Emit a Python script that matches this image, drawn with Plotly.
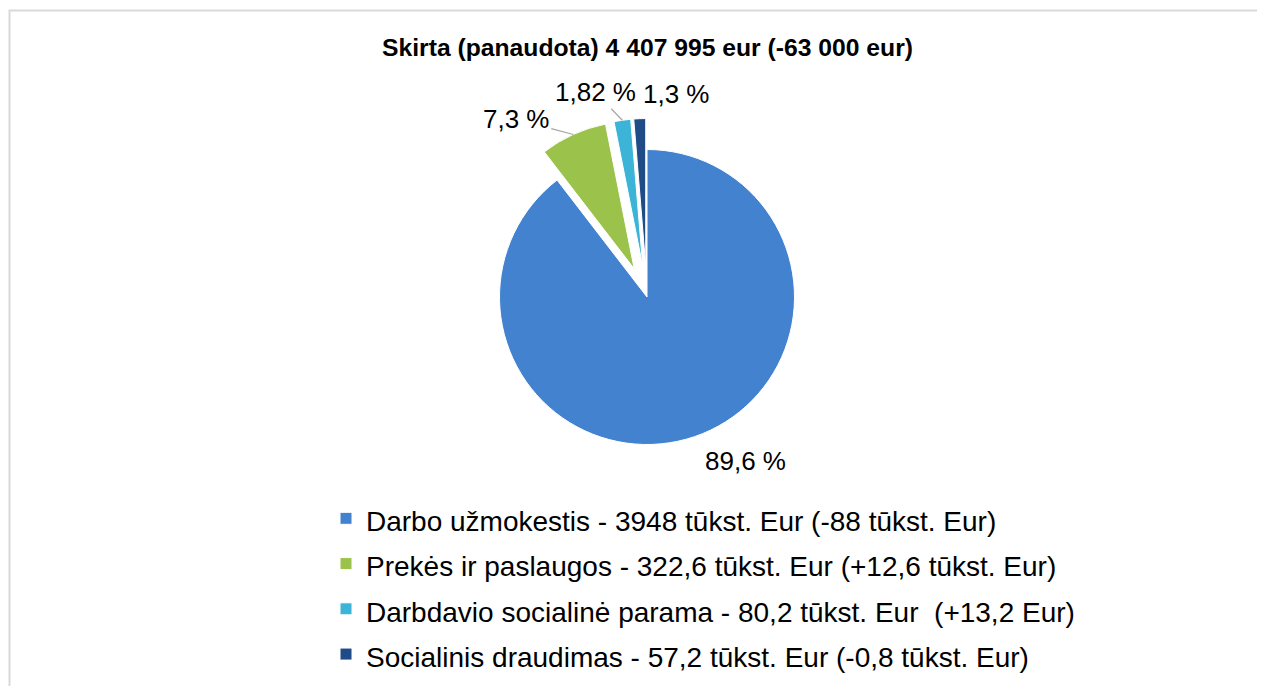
import math
import plotly.graph_objects as go

# data
categories = [
    "Darbo užmokestis - 3948 tūkst. Eur (-88 tūkst. Eur)",
    "Prekės ir paslaugos - 322,6 tūkst. Eur (+12,6 tūkst. Eur)",
    "Darbdavio socialinė parama - 80,2 tūkst. Eur  (+13,2 Eur)",
    "Socialinis draudimas - 57,2 tūkst. Eur (-0,8 tūkst. Eur)",
]
values = [3948, 322.6, 80.2, 57.2]
pct_labels = ["89,6 %", "7,3 %", "1,82 %", "1,3 %"]
colors = ["#4282CF", "#9BC34B", "#3CB4D7", "#1F4B87"]
pulls = [0, 0.21, 0.21, 0.21]

# page has an 8px body margin, so the figure is a bit smaller than the window
W, H = 1257, 678
cx, cy, r = 639, 289, 147.5          # pie centre / radius in figure px
half = r * (1 + max(pulls))

fig = go.Figure(go.Pie(
    labels=[f'<span style="font-size:28px">{c}</span>' for c in categories],
    values=values,
    textinfo="none",
    marker=dict(colors=colors, line=dict(color="white", width=1)),
    pull=pulls,
    sort=False,
    direction="clockwise",
    rotation=0,
    domain=dict(x=[(cx - half) / W, (cx + half) / W],
                y=[1 - (cy + half) / H, 1 - (cy - half) / H]),
))

# percentage labels placed like Excel did: offset (px) from each slice's outer edge midpoint
label_offsets = [(51, 24, False), (-57, -15, True), (-27, -28, True), (37, -25, False)]
annotations = []
total = sum(values)
start = 0.0
for v, txt, p, (dx, dy, leader) in zip(values, pct_labels, pulls, label_offsets):
    mid = (start + v / 2) / total * 2 * math.pi
    start += v
    R = r * (1 + p)
    px, py = cx + R * math.sin(mid), cy - R * math.cos(mid)
    ann = dict(text=txt, xref="paper", yref="paper", x=px / W, y=1 - py / H,
               font=dict(family="Arial", size=26, color="black"))
    if leader:
        ann.update(showarrow=True, ax=dx, ay=dy, arrowhead=0, arrowwidth=1.2,
                   arrowcolor="#A6A6A6", standoff=0)
    else:
        ann.update(showarrow=False, xshift=dx, yshift=-dy,
                   xanchor="center", yanchor="middle")
    annotations.append(ann)

fig.update_layout(
    width=W,
    height=H,
    margin=dict(l=0, r=0, t=0, b=0, autoexpand=False),
    paper_bgcolor="white",
    font=dict(family="Arial", color="black"),
    title=dict(
        text="<b>Skirta (panaudota) 4 407 995 eur (-63 000 eur)</b>",
        font=dict(size=24.7, color="black"),
        x=639.5 / W, xanchor="center",
        y=1 - 39 / H, yanchor="middle",
    ),
    legend=dict(
        orientation="v",
        x=318 / W, xanchor="left",
        y=1 - 482.7 / H, yanchor="top",
        font=dict(size=32.5, color="black"),
    ),
    annotations=annotations,
    shapes=[dict(type="rect", xref="paper", yref="paper",
                 x0=1.5 / W, x1=1.02, y0=-0.02, y1=1 - 2.5 / H,
                 line=dict(color="#D9D9D9", width=2), layer="below")],
)

fig.write_html("out.html")
